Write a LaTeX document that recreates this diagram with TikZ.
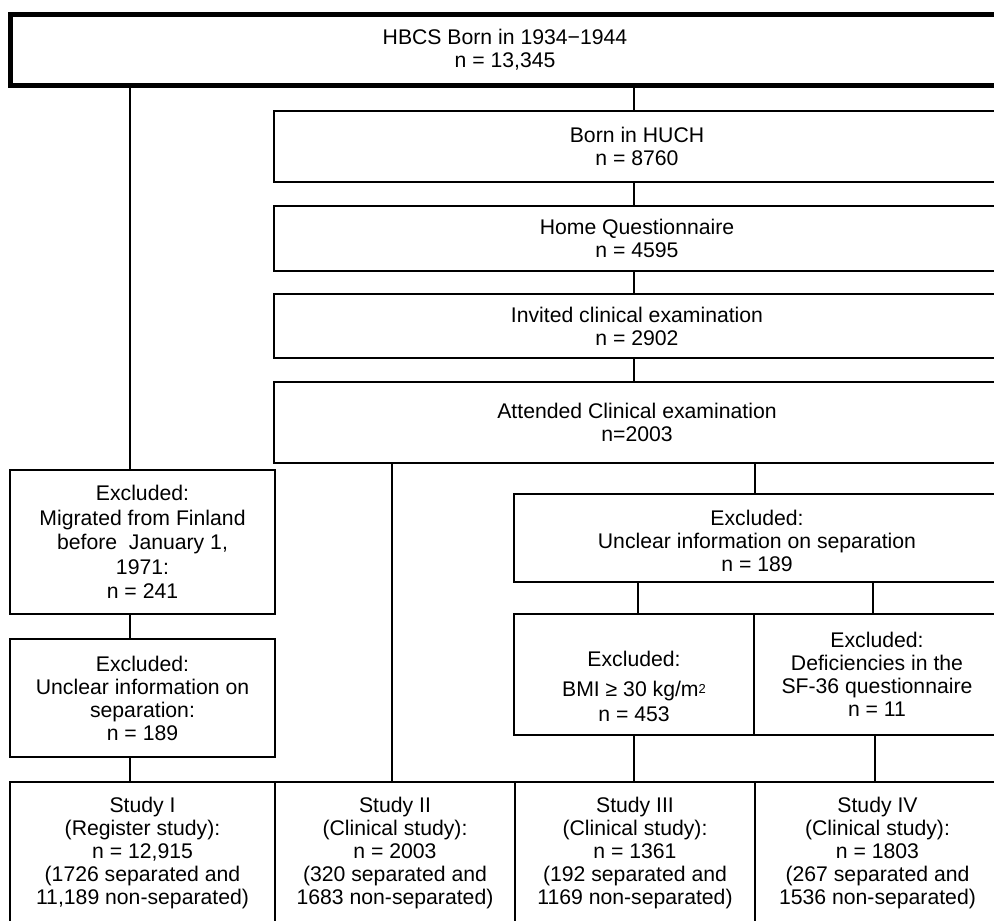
\documentclass[tikz,border=0pt]{standalone}
\usepackage{fontspec}
\setmainfont{Liberation Sans}

\begin{document}
\begin{tikzpicture}[x=1pt,y=-1pt,
  box/.style={rectangle, draw, line width=1.6pt, align=center, inner sep=0pt,
    font=\fontsize{21.2}{23}\selectfont},
  mainbox/.style={box, line width=5pt},
  link/.style={line width=1.6pt}
]

\useasboundingbox (0,0) rectangle (994,921);
\clip (0,0) rectangle (994,921);

% Columns for the connectors
\coordinate (colA) at (130,0);
\coordinate (colB) at (634,0);
\coordinate (colC) at (755,0);
\coordinate (colD) at (392,0);
\coordinate (colE) at (638,0);
\coordinate (colF) at (873,0);
\coordinate (colG) at (875,0);

% Cohort
\node[mainbox, minimum width=990pt, minimum height=71pt] (cohort) at (505,50) {HBCS Born in 1934−1944\\n = 13,345};

% Main chain
\node[box, minimum width=726pt, minimum height=71pt] (huch) at (637,146.5) {Born in HUCH\\n = 8760};
\node[box, minimum width=726pt, minimum height=65pt] (home) at (637,238.5) {Home Questionnaire\\n = 4595};
\node[box, minimum width=726pt, minimum height=64pt] (invited) at (637,326) {Invited clinical examination\\n = 2902};
\node[box, minimum width=726pt, minimum height=81pt] (attended) at (637,422.5) {Attended Clinical examination\\n=2003};

% Exclusions, register branch
\node[box, minimum width=265pt, minimum height=144pt, font=\fontsize{21.2}{24.5}\selectfont] (migrated) at (142.5,542) {Excluded:\\Migrated from Finland\\before~ January 1,\\1971:\\n = 241};
\node[box, minimum width=265pt, minimum height=118pt] (unclearreg) at (142.5,698) {Excluded:\\Unclear information on\\separation:\\n = 189};

% Exclusions, clinical branch
\node[box, minimum width=486pt, minimum height=88pt] (unclearclin) at (757,538) {\rule{0pt}{22pt}Excluded:\\Unclear information on separation\\n = 189};
\node[box, minimum width=240pt, minimum height=121pt, font=\fontsize{21.2}{25}\selectfont] (bmi) at (634,674.5) {\rule{0pt}{40pt}Excluded:\\[5pt]BMI ≥ 30 kg/m\raisebox{3pt}{\fontsize{13}{13}\selectfont 2}\\n = 453};
\node[box, minimum width=246pt, minimum height=121pt] (sf) at (877,674.5) {Excluded:\\Deficiencies in the\\SF-36 questionnaire\\n = 11};

% Studies
\node[box, minimum width=265pt, minimum height=143pt] (studyI) at (142.5,853.5) {Study I\\(Register study):\\n = 12,915\\(1726 separated and\\11,189 non-separated)};
\node[box, minimum width=240pt, minimum height=143pt] (studyII) at (395,853.5) {Study II\\(Clinical study):\\n = 2003\\(320 separated and\\1683 non-separated)};
\node[box, minimum width=240pt, minimum height=143pt] (studyIII) at (635,853.5) {Study III\\(Clinical study):\\n = 1361\\(192 separated and\\1169 non-separated)};
\node[box, minimum width=245pt, minimum height=143pt] (studyIV) at (877.5,853.5) {Study IV\\(Clinical study):\\n = 1803\\(267 separated and\\1536 non-separated)};

% Connectors
\foreach \a/\b in {cohort/huch, huch/home, home/invited, invited/attended} {
  \draw[link] (\a.south -| colB) -- (\b.north -| colB);
}
\foreach \a/\b in {cohort/migrated, migrated/unclearreg, unclearreg/studyI} {
  \draw[link] (\a.south -| colA) -- (\b.north -| colA);
}
\draw[link] (attended.south -| colD) -- (studyII.north -| colD);
\draw[link] (attended.south -| colC) -- (unclearclin.north -| colC);
\draw[link] (unclearclin.south -| colE) -- (bmi.north -| colE);
\draw[link] (unclearclin.south -| colF) -- (sf.north -| colF);
\draw[link] (bmi.south -| colB) -- (studyIII.north -| colB);
\draw[link] (sf.south -| colG) -- (studyIV.north -| colG);

\end{tikzpicture}
\end{document}
